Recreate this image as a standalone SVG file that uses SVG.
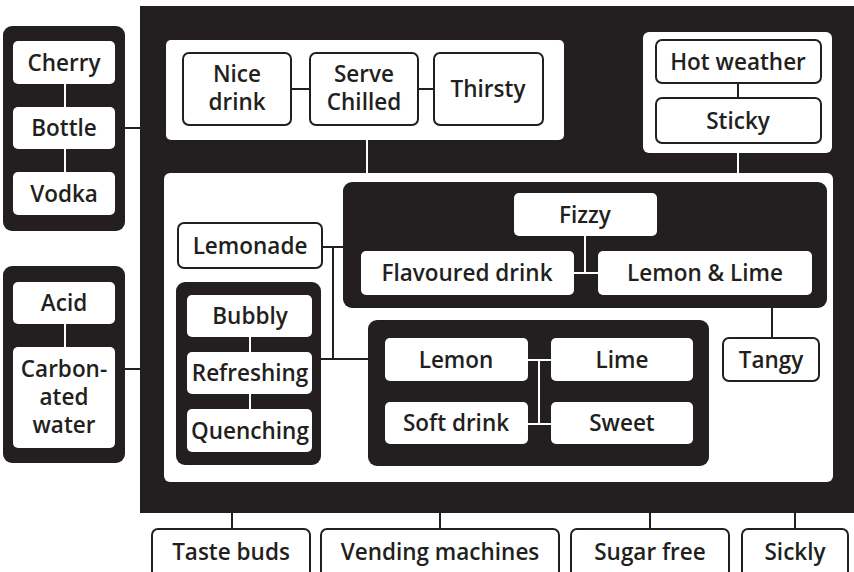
<svg xmlns="http://www.w3.org/2000/svg" width="854" height="572" viewBox="0 0 854 572">
<style>
.bg{fill:#231f20}
.panel{fill:#ffffff}
.n{fill:#ffffff}
.nb{fill:#ffffff;stroke:#231f20;stroke-width:2}
.t{font-family:"Open Sans","Noto Sans",sans-serif;font-weight:600;font-size:22.5px;fill:#231f20;text-anchor:middle}
.cd{stroke:#231f20;stroke-width:2;fill:none}
.cw{stroke:#ffffff;stroke-width:2;fill:none}
</style>
<rect x="0" y="0" width="854" height="572" fill="#ffffff"/>
<rect id="main" class="bg" x="140" y="6" width="714" height="507"/>
<g id="top-panel"><rect class="panel" x="166" y="40" width="398" height="100" rx="5"/></g>
<g id="right-panel"><rect class="panel" x="643" y="32" width="189" height="121" rx="6"/></g>
<g id="lower-panel"><rect class="panel" x="164" y="173" width="669" height="309" rx="6"/></g>
<g id="left-group-1"><rect class="bg" x="3" y="26" width="122" height="205" rx="9"/></g>
<g id="left-group-2"><rect class="bg" x="3" y="266" width="122" height="197" rx="9"/></g>
<g id="fizzy-group"><rect class="bg" x="343" y="182" width="484" height="126" rx="9"/></g>
<g id="bubbly-group"><rect class="bg" x="176" y="282" width="145" height="183" rx="9"/></g>
<g id="lemon-group"><rect class="bg" x="368" y="320" width="341" height="146" rx="9"/></g>

<g id="connectors">
<line class="cw" x1="65" y1="84" x2="65" y2="107"/>
<line class="cw" x1="65" y1="149" x2="65" y2="172"/>
<line class="cd" x1="125" y1="128" x2="140" y2="128"/>
<line class="cw" x1="65" y1="324" x2="65" y2="347"/>
<line class="cd" x1="125" y1="369" x2="140" y2="369"/>
<line class="cd" x1="291" y1="89" x2="310" y2="89"/>
<line class="cd" x1="418" y1="89" x2="434" y2="89"/>
<line class="cw" x1="367" y1="140" x2="367" y2="173"/>
<line class="cd" x1="738" y1="83" x2="738" y2="98"/>
<line class="cw" x1="738" y1="153" x2="738" y2="173"/>
<line class="cw" x1="585" y1="236" x2="585" y2="273"/>
<line class="cw" x1="574" y1="273" x2="598" y2="273"/>
<line class="cd" x1="322" y1="247" x2="343" y2="247"/>
<line class="cd" x1="333" y1="247" x2="333" y2="359"/>
<line class="cd" x1="321" y1="359" x2="368" y2="359"/>
<line class="cw" x1="250" y1="337" x2="250" y2="352"/>
<line class="cw" x1="250" y1="394" x2="250" y2="409"/>
<line class="cw" x1="528" y1="360" x2="551" y2="360"/>
<line class="cw" x1="539" y1="360" x2="539" y2="424"/>
<line class="cw" x1="528" y1="424" x2="551" y2="424"/>
<line class="cd" x1="772" y1="308" x2="772" y2="338"/>
<line class="cd" x1="232" y1="513" x2="232" y2="529"/>
<line class="cd" x1="440" y1="513" x2="440" y2="529"/>
<line class="cd" x1="650" y1="513" x2="650" y2="529"/>
<line class="cd" x1="795" y1="513" x2="795" y2="529"/>
</g>

<g id="cherry"><rect class="n" x="13" y="41" width="102" height="43" rx="5"/><text class="t" x="64" y="71">Cherry</text></g>
<g id="bottle"><rect class="n" x="13" y="107" width="102" height="42" rx="5"/><text class="t" x="64" y="136">Bottle</text></g>
<g id="vodka"><rect class="n" x="13" y="172" width="102" height="43" rx="5"/><text class="t" x="64" y="202">Vodka</text></g>
<g id="acid"><rect class="n" x="13" y="282" width="102" height="42" rx="5"/><text class="t" x="64" y="311">Acid</text></g>
<g id="carbonated-water"><rect class="n" x="13" y="347" width="102" height="101" rx="5"/><text class="t" x="64" y="377">Carbon-</text><text class="t" x="64" y="405">ated</text><text class="t" x="64" y="433">water</text></g>

<g id="nice-drink"><rect class="nb" x="183" y="53" width="108" height="72" rx="6"/><text class="t" x="237" y="82">Nice</text><text class="t" x="237" y="110">drink</text></g>
<g id="serve-chilled"><rect class="nb" x="310" y="53" width="108" height="72" rx="6"/><text class="t" x="364" y="82">Serve</text><text class="t" x="364" y="110">Chilled</text></g>
<g id="thirsty"><rect class="nb" x="434" y="53" width="109" height="72" rx="6"/><text class="t" x="488" y="97">Thirsty</text></g>

<g id="hot-weather"><rect class="nb" x="656" y="40" width="165" height="43" rx="6"/><text class="t" x="738" y="70">Hot weather</text></g>
<g id="sticky"><rect class="nb" x="656" y="98" width="165" height="45" rx="6"/><text class="t" x="738" y="129">Sticky</text></g>

<g id="fizzy"><rect class="n" x="514" y="193" width="143" height="43" rx="5"/><text class="t" x="585" y="223">Fizzy</text></g>
<g id="flavoured-drink"><rect class="n" x="361" y="251" width="213" height="44" rx="5"/><text class="t" x="467" y="281">Flavoured drink</text></g>
<g id="lemon-lime"><rect class="n" x="598" y="251" width="214" height="44" rx="5"/><text class="t" x="705" y="281">Lemon &amp; Lime</text></g>

<g id="lemonade"><rect class="nb" x="178" y="223" width="144" height="45" rx="6"/><text class="t" x="250" y="254">Lemonade</text></g>

<g id="bubbly"><rect class="n" x="187" y="295" width="125" height="42" rx="5"/><text class="t" x="250" y="324">Bubbly</text></g>
<g id="refreshing"><rect class="n" x="187" y="352" width="125" height="42" rx="5"/><text class="t" x="250" y="381">Refreshing</text></g>
<g id="quenching"><rect class="n" x="187" y="409" width="125" height="43" rx="5"/><text class="t" x="250" y="439">Quenching</text></g>

<g id="lemon"><rect class="n" x="385" y="338" width="143" height="43" rx="5"/><text class="t" x="456" y="368">Lemon</text></g>
<g id="lime"><rect class="n" x="551" y="338" width="142" height="43" rx="5"/><text class="t" x="622" y="368">Lime</text></g>
<g id="soft-drink"><rect class="n" x="385" y="402" width="143" height="42" rx="5"/><text class="t" x="456" y="431">Soft drink</text></g>
<g id="sweet"><rect class="n" x="551" y="402" width="142" height="42" rx="5"/><text class="t" x="622" y="431">Sweet</text></g>

<g id="tangy"><rect class="nb" x="723" y="338" width="96" height="43" rx="6"/><text class="t" x="771" y="368">Tangy</text></g>

<g id="taste-buds"><rect class="nb" x="152" y="529" width="158" height="50" rx="6"/><text class="t" x="231" y="560">Taste buds</text></g>
<g id="vending-machines"><rect class="nb" x="321" y="529" width="238" height="50" rx="6"/><text class="t" x="440" y="560">Vending machines</text></g>
<g id="sugar-free"><rect class="nb" x="571" y="529" width="158" height="50" rx="6"/><text class="t" x="650" y="560">Sugar free</text></g>
<g id="sickly"><rect class="nb" x="742" y="529" width="106" height="50" rx="6"/><text class="t" x="795" y="560">Sickly</text></g>
</svg>
